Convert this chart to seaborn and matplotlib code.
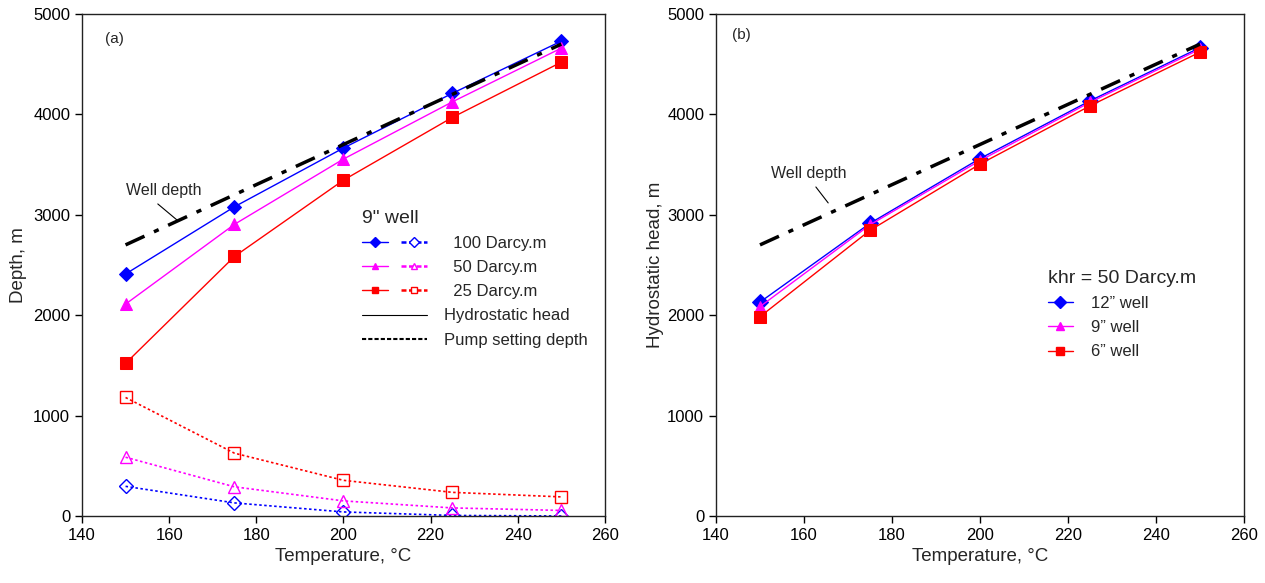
import numpy as np
import pandas as pd
import matplotlib
matplotlib.use('Agg')
import matplotlib.pyplot as plt
import seaborn as sns
from matplotlib.lines import Line2D
from matplotlib.legend_handler import HandlerTuple

# Dados
temperatura = [150, 175, 200, 225, 250]
well_depth_t = [150, 250]
well_depth = [2700, 4700]

# (a) poço de 9" - carga hidrostática (linhas cheias)
head_100 = [2410, 3080, 3665, 4210, 4730]
head_50 = [2110, 2905, 3555, 4125, 4660]
head_25 = [1520, 2585, 3345, 3970, 4520]
# (a) profundidade de instalação da bomba (pontilhado)
pump_100 = [295, 130, 40, 5, 0]
pump_50 = [585, 290, 150, 80, 55]
pump_25 = [1180, 625, 355, 235, 190]

# (b) khr = 50 Darcy.m
head_12in = [2130, 2915, 3560, 4135, 4665]
head_9in = [2085, 2900, 3540, 4120, 4650]
head_6in = [1985, 2845, 3505, 4085, 4620]

sns.set_style('ticks')
plt.rcParams['font.family'] = ['Liberation Sans', 'DejaVu Sans']

fig = plt.figure(figsize=(12.65, 5.83), dpi=100)
ax1 = fig.add_axes([0.0648, 0.115, 0.4134, 0.861])
ax2 = fig.add_axes([0.566, 0.115, 0.4174, 0.861])

series_a = [
    (head_100, pump_100, 'blue', 'D', 7, '100 Darcy.m'),
    (head_50, pump_50, 'magenta', '^', 8, '50 Darcy.m'),
    (head_25, pump_25, 'red', 's', 9, '25 Darcy.m'),
]

handles = []
labels = []
for head, pump, cor, mk, ms, lab in series_a:
    sns.lineplot(x=temperatura, y=head, ax=ax1, color=cor, marker=mk, markersize=ms,
                 markeredgecolor=cor, linewidth=1)
    sns.lineplot(x=temperatura, y=pump, ax=ax1, color=cor, marker=mk, markersize=ms,
                 markerfacecolor='none', markeredgecolor=cor, markeredgewidth=1,
                 linewidth=1.2, linestyle=(0, (1.5, 1.5)))
    h1 = Line2D([], [], color=cor, marker=mk, markersize=5, linewidth=1)
    h2 = Line2D([], [], color=cor, marker=mk, markersize=5, markerfacecolor='white',
                linewidth=1.8, linestyle=(0, (2, 1)))
    handles.append((h1, h2))
    labels.append('  ' + lab)

sns.lineplot(x=well_depth_t, y=well_depth, ax=ax1, color='black', linewidth=2.5,
             linestyle=(0, (6, 3, 1.5, 3)))
handles.append(Line2D([], [], color='black', linewidth=0.8))
labels.append('Hydrostatic head')
handles.append(Line2D([], [], color='black', linewidth=1.5, linestyle=(0, (2, 1))))
labels.append('Pump setting depth')

ax1.legend(handles, labels, handler_map={tuple: HandlerTuple(ndivide=None, pad=0.8)},
           title='9" well', title_fontsize=14, fontsize=12, frameon=False,
           handlelength=3.9, handletextpad=1.0, loc='upper left',
           bbox_to_anchor=(0.507, 0.64), labelspacing=0.55, alignment='left')

ax1.text(0.044, 0.95, '(a)', transform=ax1.transAxes, fontsize=11, va='center')
ax1.text(150, 3237, 'Well depth', fontsize=11.5, va='center')
ax1.plot([157.4, 161.8], [3108, 2948], color='black', linewidth=0.8)

series_b = [
    (head_12in, 'blue', 'D', 8, '12\u201d well'),
    (head_9in, 'magenta', '^', 8, '9\u201d well'),
    (head_6in, 'red', 's', 9, '6\u201d well'),
]
handles_b = []
labels_b = []
for head, cor, mk, ms, lab in series_b:
    sns.lineplot(x=temperatura, y=head, ax=ax2, color=cor, marker=mk, markersize=ms,
                 markeredgecolor=cor, linewidth=1)
    handles_b.append(Line2D([], [], color=cor, marker=mk, markersize=6, linewidth=1))
    labels_b.append(lab)

sns.lineplot(x=well_depth_t, y=well_depth, ax=ax2, color='black', linewidth=2.5,
             linestyle=(0, (6, 3, 1.5, 3)))
ax2.legend(handles_b, labels_b, title='khr = 50 Darcy.m', title_fontsize=14, fontsize=12,
           frameon=False, handlelength=1.5, handletextpad=1.1, loc='upper left',
           bbox_to_anchor=(0.60, 0.52), labelspacing=0.55, alignment='left')

ax2.text(0.03, 0.958, '(b)', transform=ax2.transAxes, fontsize=11, va='center')
ax2.text(152.5, 3416, 'Well depth', fontsize=11.5, va='center')
ax2.plot([162.7, 165.5], [3277, 3118], color='black', linewidth=0.8)

ax1.set_ylabel('Depth, m', fontsize=13.5)
ax2.set_ylabel('Hydrostatic head, m', fontsize=13.5, labelpad=2)
for ax in (ax1, ax2):
    ax.set_xlim(140, 260)
    ax.set_ylim(0, 5000)
    ax.set_xticks(range(140, 261, 20))
    ax.set_yticks(range(0, 5001, 1000))
    ax.set_xlabel('Temperature, \u00b0C', fontsize=13.5)
    ax.tick_params(labelsize=12, direction='out', length=5, width=1, colors='black')
    for s in ax.spines.values():
        s.set_visible(True)
        s.set_color('#222222')
        s.set_linewidth(1)

fig.savefig('out.png', dpi=100)
